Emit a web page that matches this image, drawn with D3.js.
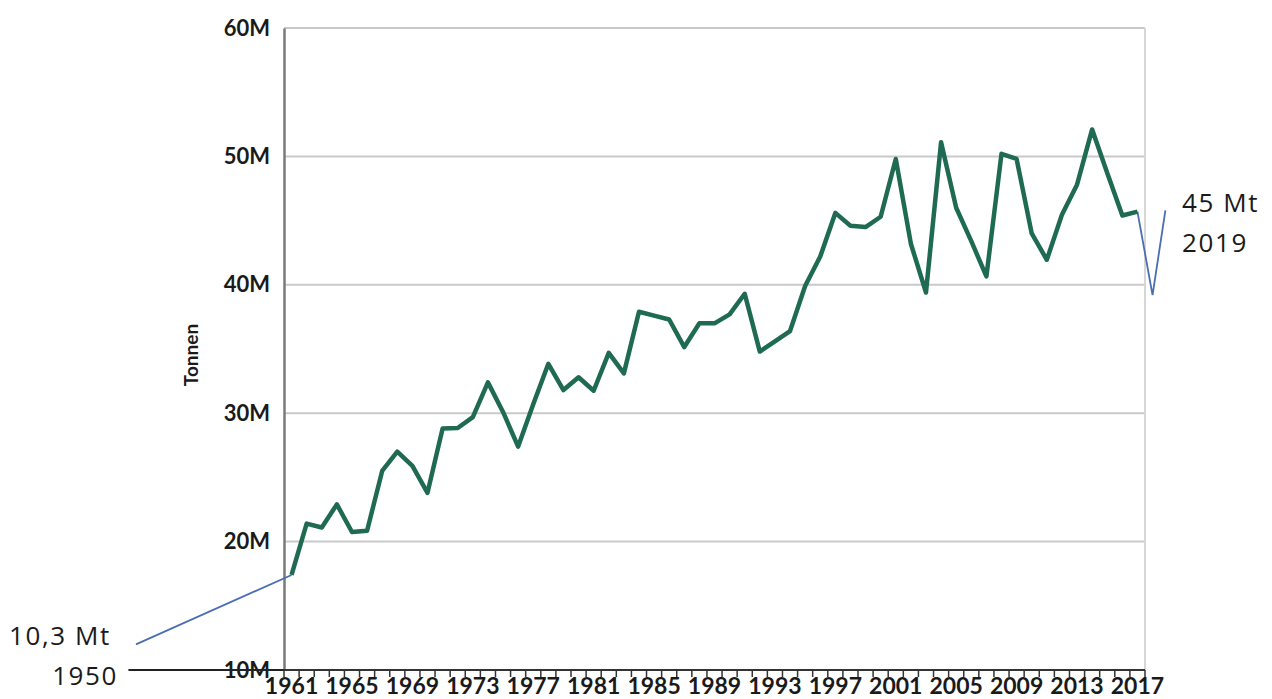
<html>
<head></head>
<body style="margin:0; background:white">
<svg id="svg" width="1272" height="699"></svg>
<script src="https://cdn.jsdelivr.net/npm/d3@7"></script>
<script>

var years = d3.range(1961, 2018);
var tonnes = [17.4, 21.4, 21.1, 22.9, 20.75, 20.85, 25.5, 27.0, 25.9, 23.8,
              28.8, 28.85, 29.7, 32.4, 30.1, 27.4, 30.7, 33.85, 31.8, 32.8,
              31.75, 34.7, 33.1, 37.9, 37.6, 37.3, 35.15, 37.0, 37.0, 37.7,
              39.3, 34.8, 35.6, 36.4, 39.9, 42.2, 45.6, 44.6, 44.5, 45.3,
              49.8, 43.2, 39.4, 51.1, 46.0, 43.4, 40.65, 50.2, 49.8, 44.0,
              41.95, 45.45, 47.8, 52.1, 48.7, 45.4, 45.7];
var yTicks = [10, 20, 30, 40, 50, 60];
var yTickLabels = ["10M", "20M", "30M", "40M", "50M", "60M"];
var xLabelYears = d3.range(1961, 2018, 4);

// hand drawn notes around the chart
var noteLeft = [{year: 1950.7, value: 12.0}, {year: 1961, value: 17.4}];
var noteRight = [{year: 2017, value: 45.7}, {year: 2018, value: 39.2}, {year: 2018.85, value: 45.8}];
var noteLeftText = ["10,3 Mt", "1950"];
var noteRightText = ["45 Mt", "2019"];

var pLeft = 284, pRight = 1145, pTop = 28, pBottom = 670;

var svg = d3.select("#svg");

var x = d3.scaleBand().domain(years).range([pLeft, pRight]);
var y = d3.scaleLinear().domain([10, 60]).range([pBottom, pTop]);

// continuous year position, same step as the bands
function xy(yr) {
  return x(1961) + x.bandwidth() / 2 + (yr - 1961) * x.step();
}

// gridlines
svg.append("g")
  .selectAll("line").data(yTicks.slice(1))
  .join("line")
    .attr("x1", pLeft).attr("x2", pRight)
    .attr("y1", d => y(d)).attr("y2", d => y(d))
    .style("stroke", "#c9c9c9").style("stroke-width", 2);

// right border
svg.append("line")
  .attr("x1", pRight).attr("x2", pRight).attr("y1", pTop).attr("y2", pBottom)
  .style("stroke", "#d6d6d6").style("stroke-width", 2);

// y axis
var ya = svg.append("g").attr("transform", "translate(" + pLeft + ",0)")
  .call(d3.axisLeft(y).tickValues(yTicks).tickSize(0).tickPadding(14)
    .tickFormat((d, i) => yTickLabels[i]));
ya.select(".domain").style("stroke", "#7a7a7a").style("stroke-width", 2.5);
ya.selectAll("text")
  .attr("font-family", "Lato").attr("font-weight", "bold")
  .attr("font-size", 22).style("fill", "#1a1a1a");

// 1950 extension of the base line
svg.append("line")
  .attr("x1", xy(1950.2)).attr("x2", pLeft)
  .attr("y1", y(10)).attr("y2", y(10))
  .style("stroke", "#222").style("stroke-width", 2);

// x axis with a tick between every year
var xa = svg.append("g").attr("transform", "translate(0," + pBottom + ")");
xa.append("line").attr("x1", pLeft).attr("x2", pRight)
  .style("stroke", "#333").style("stroke-width", 2);
xa.selectAll("line.tk").data(years.concat([2018]))
  .join("line").classed("tk", true)
    .attr("x1", d => pLeft + (d - 1961) * x.step())
    .attr("x2", d => pLeft + (d - 1961) * x.step())
    .attr("y1", 0).attr("y2", 7)
    .style("stroke", "#333").style("stroke-width", 1.5);
xa.selectAll("text").data(xLabelYears)
  .join("text")
    .attr("x", d => x(d) + x.bandwidth() / 2)
    .attr("y", 24)
    .attr("text-anchor", "middle")
    .attr("font-family", "Lato").attr("font-weight", "bold")
    .attr("font-size", 23).style("fill", "#1a1a1a")
    .text(d => d);

// axis title
svg.append("text")
  .attr("transform", "translate(198,355) rotate(-90)")
  .attr("text-anchor", "middle")
  .attr("font-family", "Lato").attr("font-weight", "bold")
  .attr("font-size", 19).style("fill", "#1a1a1a")
  .text("Tonnen");

// notes
var noteLine = d3.line().x(d => xy(d.year)).y(d => y(d.value));
svg.append("path").datum(noteLeft)
  .attr("d", noteLine)
  .style("fill", "none").style("stroke", "#4a6db3").style("stroke-width", 1.8);
svg.append("path").datum(noteRight)
  .attr("d", noteLine)
  .style("fill", "none").style("stroke", "#4a6db3").style("stroke-width", 1.8);

// main series
var line = d3.line()
  .x((d, i) => x(years[i]) + x.bandwidth() / 2)
  .y(d => y(d));
svg.append("path").datum(tonnes)
  .attr("d", line)
  .style("fill", "none").style("stroke", "#1f6a52")
  .style("stroke-width", 4.5).style("stroke-linejoin", "round");

function note(txt, px, py, anchor) {
  svg.append("text").attr("x", px).attr("y", py)
    .attr("text-anchor", anchor)
    .attr("font-family", "Open Sans").attr("font-size", 26)
    .attr("letter-spacing", 1.6).style("fill", "#1a1a1a")
    .text(txt);
}
note(noteLeftText[0], 9, 645, "start");
note(noteLeftText[1], 118, 685, "end");
note(noteRightText[0], 1182, 212, "start");
note(noteRightText[1], 1182, 252, "start");

</script>
</body>
</html>
